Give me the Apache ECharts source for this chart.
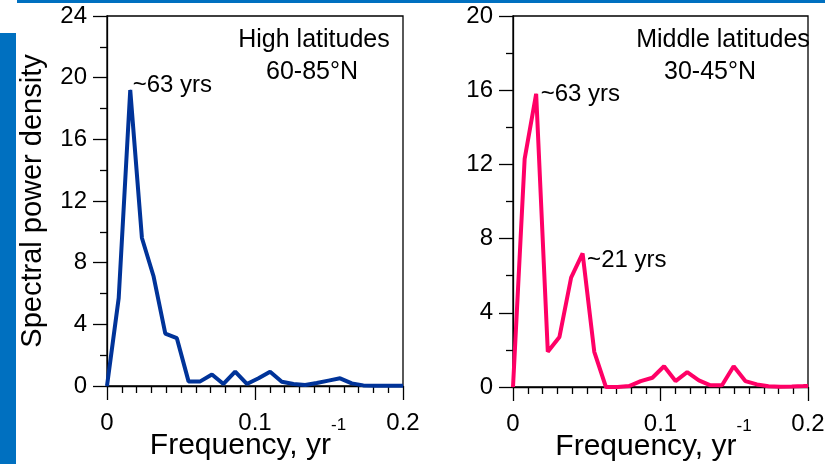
<!DOCTYPE html>
<html>
<head>
<meta charset="utf-8">
<script src="https://cdn.jsdelivr.net/npm/echarts@6/dist/echarts.min.js"></script>
<style>
    html, body { margin: 0; padding: 0; background: #fff; }
    #main { width: 838px; height: 464px; }
</style>
</head>
<body>
<div id="main"></div>
<script>
// frequencies, yr^-1
var freq = [0, 0.0079, 0.0157, 0.0236, 0.0315, 0.0394, 0.0472, 0.0551, 0.063, 0.0709,
    0.0787, 0.0866, 0.0945, 0.1024, 0.1102, 0.1181, 0.126, 0.1339, 0.1417, 0.1496,
    0.1575, 0.1654, 0.1732, 0.1811, 0.189, 0.1969, 0.2];
// high latitudes 60-85N
var highPower = [0, 5.7, 19.2, 9.6, 7.1, 3.4, 3.1, 0.3, 0.3, 0.75,
    0.13, 0.93, 0.13, 0.5, 0.93, 0.28, 0.13, 0.06, 0.2, 0.35,
    0.5, 0.17, 0.04, 0.02, 0.02, 0.02, 0.02];
// middle latitudes 30-45N
var midPower = [0, 12.3, 15.8, 1.9, 2.7, 5.9, 7.2, 1.9, 0, 0,
    0.05, 0.32, 0.5, 1.12, 0.32, 0.8, 0.36, 0.09, 0.09, 1.12,
    0.32, 0.14, 0.04, 0.02, 0.03, 0.05, 0.06];
var highNotes = [{index: 2, text: '~63 yrs'}];
var midNotes = [{index: 2, text: '~63 yrs'}, {index: 6, text: '~21 yrs'}];

var font = 'Liberation Sans';

function makeData(x, y, notes, offsets) {
    var out = [];
    for (var i = 0; i < x.length; i++) {
        out.push({value: [x[i], y[i]]});
    }
    notes.forEach(function (n, j) {
        out[n.index].label = {
            show: true,
            position: 'right',
            distance: 4,
            offset: offsets[j],
            formatter: n.text,
            color: '#000',
            fontFamily: font,
            fontSize: 24
        };
    });
    return out;
}

function xAxis(grid) {
    return {
        type: 'value', gridIndex: grid, min: 0, max: 0.2, interval: 0.1,
        name: '{a|Frequency, yr}{b|-1}',
        nameLocation: 'middle', nameGap: 31, nameMoveOverlap: false,
        nameTextStyle: {
            fontFamily: font, fontSize: 30, color: '#000',
            padding: [0, 14, 0, 0],
            rich: {
                a: {fontFamily: font, fontSize: 30, color: '#000', lineHeight: 57},
                b: {fontFamily: font, fontSize: 17, color: '#000', lineHeight: 14, verticalAlign: 'top'}
            }
        },
        axisLine: {show: true, onZero: false, lineStyle: {color: '#000', width: 1.3}},
        axisTick: {show: true, inside: false, length: 14, lineStyle: {color: '#000', width: 1.3}},
        minorTick: {show: true, splitNumber: 10, length: 7, lineStyle: {color: '#000', width: 1.3}},
        splitLine: {show: false},
        axisLabel: {margin: 25, color: '#000', fontFamily: font, fontSize: 24,
            formatter: function (v) { return v === 0 ? '0' : String(+v.toFixed(1)); }}
    };
}

function yAxis(grid, max, name) {
    return {
        type: 'value', gridIndex: grid, min: 0, max: max, interval: 4,
        name: name, nameLocation: 'middle', nameGap: 60, nameMoveOverlap: false,
        nameTextStyle: {fontFamily: font, fontSize: 29, color: '#000'},
        axisLine: {show: true, lineStyle: {color: '#000', width: 1.3}},
        axisTick: {show: true, inside: false, length: 14, lineStyle: {color: '#000', width: 1.3}},
        minorTick: {show: true, splitNumber: 2, length: 7, lineStyle: {color: '#000', width: 1.3}},
        splitLine: {show: false},
        axisLabel: {margin: 20, color: '#000', fontFamily: font, fontSize: 24}
    };
}

function titleLine(text, x, y) {
    return {text: text, left: x, top: y, textAlign: 'center',
        textStyle: {fontFamily: font, fontSize: 25, fontWeight: 'normal', color: '#000'}};
}

var myChart = echarts.init(document.getElementById('main'));
var option = {
    animation: false,
    backgroundColor: '#fff',
    title: [
        titleLine('High latitudes', 309, 23),
        titleLine('60-85°N', 307, 55),
        titleLine('Middle latitudes', 718, 23),
        titleLine('30-45°N', 705, 55)
    ],
    graphic: [
        {type: 'rect', shape: {x: 17, y: 0, width: 808, height: 3}, style: {fill: '#0070c0'}},
        {type: 'rect', shape: {x: 0, y: 33, width: 16, height: 431}, style: {fill: '#0070c0'}}
    ],
    grid: [
        {left: 107, top: 16, right: 435, bottom: 78, outerBoundsMode: 'none',
            show: true, borderColor: '#000', borderWidth: 1.3},
        {left: 513, top: 16, right: 30, bottom: 77, outerBoundsMode: 'none',
            show: true, borderColor: '#000', borderWidth: 1.3}
    ],
    xAxis: [xAxis(0), xAxis(1)],
    yAxis: [yAxis(0, 24, 'Spectral power density'), yAxis(1, 20, '')],
    series: [
        {
            type: 'line', xAxisIndex: 0, yAxisIndex: 0,
            data: makeData(freq, highPower, highNotes, [[-2, -5]]),
            symbol: 'circle', symbolSize: 1, showSymbol: true,
            itemStyle: {color: '#003399'},
            lineStyle: {color: '#003399', width: 4}
        },
        {
            type: 'line', xAxisIndex: 1, yAxisIndex: 1,
            data: makeData(freq, midPower, midNotes, [[0, 0], [0, 7]]),
            symbol: 'circle', symbolSize: 1, showSymbol: true,
            itemStyle: {color: '#ff0066'},
            lineStyle: {color: '#ff0066', width: 4}
        }
    ]
};
myChart.setOption(option);
</script>
</body>
</html>
